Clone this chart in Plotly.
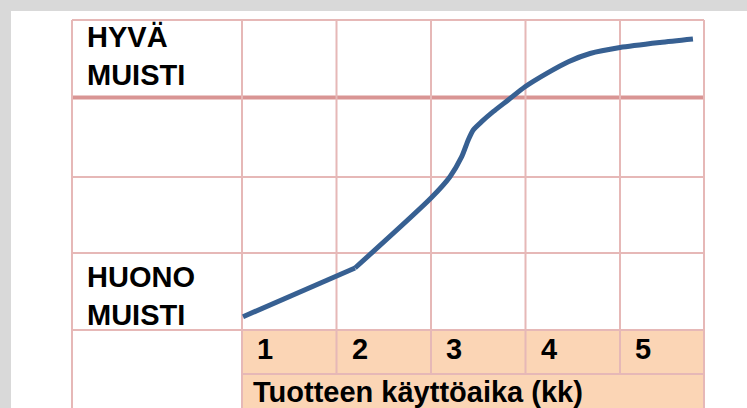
import plotly.graph_objects as go

# ---- data ----
months = [0.011, 1.196, 2.0, 2.201, 2.325, 2.394, 2.447, 2.536, 2.658,
          2.817, 2.995, 3.225, 3.454, 3.683, 4.0, 4.423, 4.772]
memory = [0.172, 0.80, 1.703, 1.978, 2.236, 2.452, 2.581, 2.688, 2.817,
          2.968, 3.139, 3.312, 3.462, 3.568, 3.645, 3.71, 3.755]
month_labels = ["1", "2", "3", "4", "5"]
label_good = "HYVÄ<br>MUISTI"
label_bad = "HUONO<br>MUISTI"
axis_title = "Tuotteen käyttöaika (kk)"

# ---- layout geometry (axis units) ----
col_edges = [0, 1, 2, 3, 4, 4.889]
left_edge = -1.799
row_lines = [0, 0.994, 1.974, 4.0]
thick_row = 3.0
num_row_bottom = -0.568
bottom = -1.1

thin = "#e6b8b7"
thick_c = "#d99594"
peach = "#fbd5b5"
font_fam = "Liberation Sans, Arial, sans-serif"
curve_c = "#376092"

fig = go.Figure()
fig.add_trace(go.Scatter(x=months[:2], y=memory[:2], mode="lines",
                         line=dict(color=curve_c, width=5),
                         hoverinfo="skip", showlegend=False))
fig.add_trace(go.Scatter(x=months[1:], y=memory[1:], mode="lines",
                         line=dict(color=curve_c, width=5, shape="spline", smoothing=0.7),
                         hoverinfo="skip", showlegend=False))

shapes = []
shapes.append(dict(type="rect", xref="paper", yref="paper", x0=11/747, x1=1.01,
                   y0=-0.01, y1=(408-11)/408, fillcolor="white", line_width=0, layer="below"))
shapes.append(dict(type="rect", x0=0, x1=col_edges[-1], y0=bottom, y1=0,
                   fillcolor=peach, line_width=0, layer="below"))
for r in row_lines:
    shapes.append(dict(type="line", x0=left_edge, x1=col_edges[-1], y0=r, y1=r,
                       line=dict(color=thin, width=2), layer="below"))
shapes.append(dict(type="line", x0=0, x1=col_edges[-1], y0=num_row_bottom, y1=num_row_bottom,
                   line=dict(color=thin, width=2), layer="below"))
shapes.append(dict(type="line", x0=left_edge, x1=col_edges[-1], y0=thick_row, y1=thick_row,
                   line=dict(color=thick_c, width=4), layer="below"))
for xv in [left_edge, 0, col_edges[-1]]:
    shapes.append(dict(type="line", x0=xv, x1=xv, y0=bottom, y1=4.0,
                       line=dict(color=thin, width=2), layer="below"))
for xv in col_edges[1:-1]:
    shapes.append(dict(type="line", x0=xv, x1=xv, y0=num_row_bottom, y1=4.0,
                       line=dict(color=thin, width=2), layer="below"))

annos = []
fnt = dict(family=font_fam, size=29, color="black", weight="bold")
annos.append(dict(x=-1.665, y=3.53, text=label_good, xanchor="left", yanchor="middle",
                  align="left", showarrow=False, font=fnt))
annos.append(dict(x=-1.665, y=0.44, text=label_bad, xanchor="left", yanchor="middle",
                  align="left", showarrow=False, font=fnt))
for i, lab in enumerate(month_labels):
    annos.append(dict(x=col_edges[i] + 0.14, y=-0.245, text=lab, xanchor="left",
                      yanchor="middle", showarrow=False, font=fnt))
annos.append(dict(x=0.095, y=-0.8, text=axis_title, xanchor="left", yanchor="middle",
                  showarrow=False, font=fnt))

fig.update_layout(
    width=747, height=408, margin=dict(l=0, r=0, t=0, b=0),
    paper_bgcolor="#d9d9d9", plot_bgcolor="rgba(0,0,0,0)",
    xaxis=dict(range=[-242/94.5, 505/94.5], visible=False, fixedrange=True),
    yaxis=dict(range=[-78/77.5, 330/77.5], visible=False, fixedrange=True),
    shapes=shapes, annotations=annos, showlegend=False,
)
fig.write_html("out.html", config={"displayModeBar": False},
               post_script="document.body.style.margin='0';document.body.style.overflow='hidden';document.body.style.background='#d9d9d9';")
